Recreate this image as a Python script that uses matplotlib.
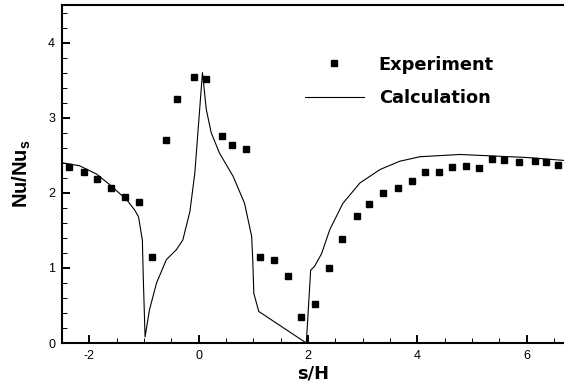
import matplotlib
matplotlib.use("Agg")
import matplotlib.pyplot as plt
from matplotlib.ticker import MultipleLocator

plt.rcParams['font.family'] = ['Liberation Sans', 'DejaVu Sans']
plt.rcParams['mathtext.fontset'] = 'custom'
plt.rcParams['mathtext.bf'] = 'Liberation Sans:bold'
plt.rcParams['mathtext.rm'] = 'Liberation Sans:bold'
plt.rcParams['axes.unicode_minus'] = False

# Measured Nusselt number ratio along the wall
exp_s = [-2.37, -2.09, -1.86, -1.61, -1.34, -1.10, -0.855, -0.59, -0.40, -0.08,
         0.14, 0.43, 0.61, 0.86, 1.12, 1.38, 1.64, 1.87, 2.13, 2.38, 2.63, 2.89,
         3.11, 3.38, 3.64, 3.90, 4.14, 4.39, 4.63, 4.90, 5.13, 5.37, 5.59, 5.86,
         6.15, 6.36, 6.58]
exp_nu = [2.34, 2.27, 2.19, 2.07, 1.94, 1.88, 1.15, 2.70, 3.25, 3.54,
          3.52, 2.76, 2.63, 2.58, 1.14, 1.11, 0.89, 0.34, 0.52, 1.00, 1.39, 1.69,
          1.85, 2.00, 2.07, 2.16, 2.27, 2.28, 2.34, 2.35, 2.33, 2.45, 2.43, 2.41,
          2.42, 2.41, 2.37]

# Computed distribution
calc_s = [-2.50, -2.18, -1.87, -1.63, -1.32, -1.17, -1.10, -1.03, -1.01, -0.98,
          -0.90, -0.77, -0.59, -0.41, -0.29, -0.16, -0.07, 0.07, 0.14, 0.23,
          0.38, 0.63, 0.84, 0.97, 0.99, 1.01, 1.10, 1.97, 2.05, 2.12, 2.25,
          2.40, 2.64, 2.95, 3.32, 3.68, 4.05, 4.78, 5.39, 6.00, 6.70]
calc_nu = [2.40, 2.36, 2.25, 2.11, 1.91, 1.77, 1.68, 1.37, 0.80, 0.08,
           0.44, 0.80, 1.11, 1.24, 1.37, 1.75, 2.26, 3.60, 3.11, 2.80,
           2.53, 2.22, 1.86, 1.42, 1.11, 0.66, 0.42, 0.00, 0.97, 1.02, 1.19,
           1.51, 1.86, 2.13, 2.31, 2.42, 2.48, 2.51, 2.49, 2.47, 2.43]

fig = plt.figure(figsize=(5.64, 3.82), dpi=100)
ax = fig.add_axes([62/564, 39/382, 1 - 62/564, 338/382])

ax.plot(exp_s, exp_nu, linestyle='none', marker='s', markersize=4.6,
        color='black', label='Experiment')
ax.plot(calc_s, calc_nu, color='black', linewidth=0.8, label='Calculation')

ax.set_xlim(-2.5, 6.685)
ax.set_ylim(0, 4.5)

ax.xaxis.set_major_locator(MultipleLocator(2))
ax.xaxis.set_minor_locator(MultipleLocator(0.5))
ax.yaxis.set_major_locator(MultipleLocator(1))
ax.yaxis.set_minor_locator(MultipleLocator(0.2))

ax.tick_params(which='major', direction='in', length=6, width=1.4,
               labelsize=9, pad=5)
ax.tick_params(which='minor', direction='in', length=3.5, width=0.7)
ax.tick_params(top=False, right=False, which='both')

for side in ('left', 'bottom', 'top'):
    ax.spines[side].set_linewidth(1.5)
ax.spines['right'].set_visible(False)

bold_wide = {'family': 'DejaVu Sans', 'weight': 'bold', 'size': 12.8}

ax.set_xlabel('s/H', fontdict=bold_wide, labelpad=2)
ax.set_ylabel(r'Nu/Nu$_\mathbf{s}$', fontsize=14.5, fontweight='bold', labelpad=11)

leg = ax.legend(loc='upper left', bbox_to_anchor=(0.484, 0.85), frameon=False,
                prop=bold_wide, handlelength=3.3,
                handletextpad=0.85, labelspacing=0.85, borderpad=0,
                borderaxespad=0, markerscale=0.9)

fig.savefig('out.png', dpi=100)
